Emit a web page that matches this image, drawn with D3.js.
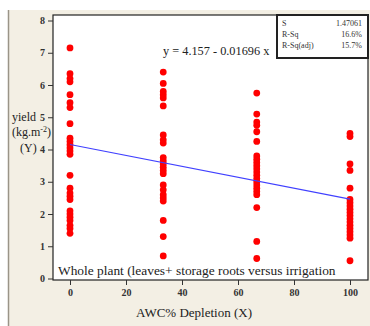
<!DOCTYPE html>
<html>
<head>
<meta charset="utf-8">
<script src="https://cdn.jsdelivr.net/npm/d3@7"></script>
<style>
  body { margin: 0; background: #fff; }
  svg { display: block; font-family: "Liberation Serif", "DejaVu Serif", serif; }
</style>
</head>
<body>
<svg id="chart" width="370" height="326"></svg>
<script>
// depletion levels (X) and yields (Y)
const depletion = [0, 33.3, 66.7, 100];
const yield0 = [7.15, 6.35, 6.2, 6.1, 5.7, 5.45, 5.3, 4.8, 4.35, 4.25, 4.15, 4.05, 3.95, 3.85,
  3.2, 2.8, 2.65, 2.55, 2.45, 2.1, 2.0, 1.9, 1.8, 1.65, 1.55, 1.4];
const yield33 = [6.4, 6.05, 5.8, 5.7, 5.6, 5.35, 4.45, 4.3, 4.2, 3.75, 3.65, 3.55, 3.45, 3.35,
  3.25, 2.9, 2.75, 2.6, 2.5, 2.4, 1.8, 1.3, 0.7];
const yield67 = [5.75, 5.1, 4.85, 4.75, 4.55, 4.25, 3.8, 3.7, 3.6, 3.5, 3.4, 3.3, 3.2, 3.1,
  3.0, 2.9, 2.8, 2.7, 2.6, 2.2, 1.15, 0.62];
const yield100 = [4.5, 4.4, 3.55, 3.35, 2.8, 2.45, 2.35, 2.25, 2.15, 2.05, 1.95, 1.85, 1.75,
  1.65, 1.55, 1.45, 1.35, 1.25, 0.55];
const xTicks = [0, 20, 40, 60, 80, 100];
const yTicks = [0, 1, 2, 3, 4, 5, 6, 7, 8];
const fit = { a: 4.157, b: -0.01696 };
const statLabels = ['S', 'R-Sq', 'R-Sq(adj)'];
const statValues = ['1.47061', '16.6%', '15.7%'];

const svg = d3.select('#chart');

// beige page background
svg.append('rect').attr('x', 8).attr('y', 10).attr('width', 362).attr('height', 316)
  .attr('fill', '#f3efe4');
svg.append('line').attr('x1', 8.5).attr('x2', 8.5).attr('y1', 10).attr('y2', 326)
  .attr('stroke', '#9a9488').attr('stroke-width', 1.5);

const x = d3.scaleLinear().domain([0, 100]).range([70, 350]);
const y = d3.scaleLinear().domain([0, 8]).range([278.5, 20.5]);

// plot area
svg.append('rect').attr('x', 53).attr('y', 15).attr('width', 315).attr('height', 265)
  .attr('fill', '#fff').attr('stroke', '#222').attr('stroke-width', 1.2);

// axes
const yAxis = svg.append('g').attr('transform', 'translate(53,0)')
  .call(d3.axisLeft(y).tickValues(yTicks).tickSize(5).tickPadding(3));
const xAxis = svg.append('g').attr('transform', 'translate(0,280)')
  .call(d3.axisBottom(x).tickValues(xTicks).tickSize(5).tickPadding(4));
[yAxis, xAxis].forEach(g => {
  g.select('.domain').remove();
  g.selectAll('line').attr('stroke', '#333');
  g.selectAll('text').attr('font-family', '"Liberation Serif", serif')
    .attr('font-size', 10).attr('font-weight', 'bold').attr('fill', '#333');
});

// points
const pts = [];
[yield0, yield33, yield67, yield100].forEach((col, i) => {
  col.forEach(v => pts.push({ x: depletion[i], y: v }));
});
svg.append('g').selectAll('circle').data(pts).join('circle')
  .attr('cx', d => x(d.x)).attr('cy', d => y(d.y)).attr('r', 3.4)
  .attr('fill', '#ff0000');

// fitted line
svg.append('line')
  .attr('x1', x(0)).attr('y1', y(fit.a))
  .attr('x2', x(100)).attr('y2', y(fit.a + fit.b * 100))
  .attr('stroke', '#4040ff').attr('stroke-width', 1.1);

svg.append('text').attr('x', 163).attr('y', 55).attr('font-size', 12.3).attr('fill', '#222')
  .text('y  =  4.157 - 0.01696 x');

// stats box
svg.append('rect').attr('x', 277).attr('y', 15).attr('width', 91).attr('height', 43)
  .attr('fill', '#fff').attr('stroke', '#222').attr('stroke-width', 2);
statLabels.forEach((s, i) => {
  svg.append('text').attr('x', 282).attr('y', 26 + i * 11).attr('font-size', 8)
    .attr('fill', '#333').text(s);
  svg.append('text').attr('x', 362).attr('y', 26 + i * 11).attr('font-size', 8)
    .attr('text-anchor', 'end').attr('fill', '#333').text(statValues[i]);
});

// caption inside plot
svg.append('text').attr('x', 58).attr('y', 275).attr('font-size', 13.4).attr('fill', '#222')
  .text('Whole plant (leaves+ storage roots versus irrigation');

// axis titles
svg.append('text').attr('x', 194).attr('y', 317).attr('text-anchor', 'middle')
  .attr('font-size', 13).attr('fill', '#222').text('AWC% Depletion (X)');
const yt = svg.append('g').attr('font-size', 12).attr('fill', '#222');
yt.append('text').attr('x', 12).attr('y', 121).text('yield');
const km = yt.append('text').attr('x', 12).attr('y', 136);
km.append('tspan').text('(kg.m');
km.append('tspan').attr('dy', -4).attr('font-size', 8).text('-2');
km.append('tspan').attr('dy', 4).text(')');
yt.append('text').attr('x', 20).attr('y', 152).text('(Y)');
</script>
</body>
</html>
